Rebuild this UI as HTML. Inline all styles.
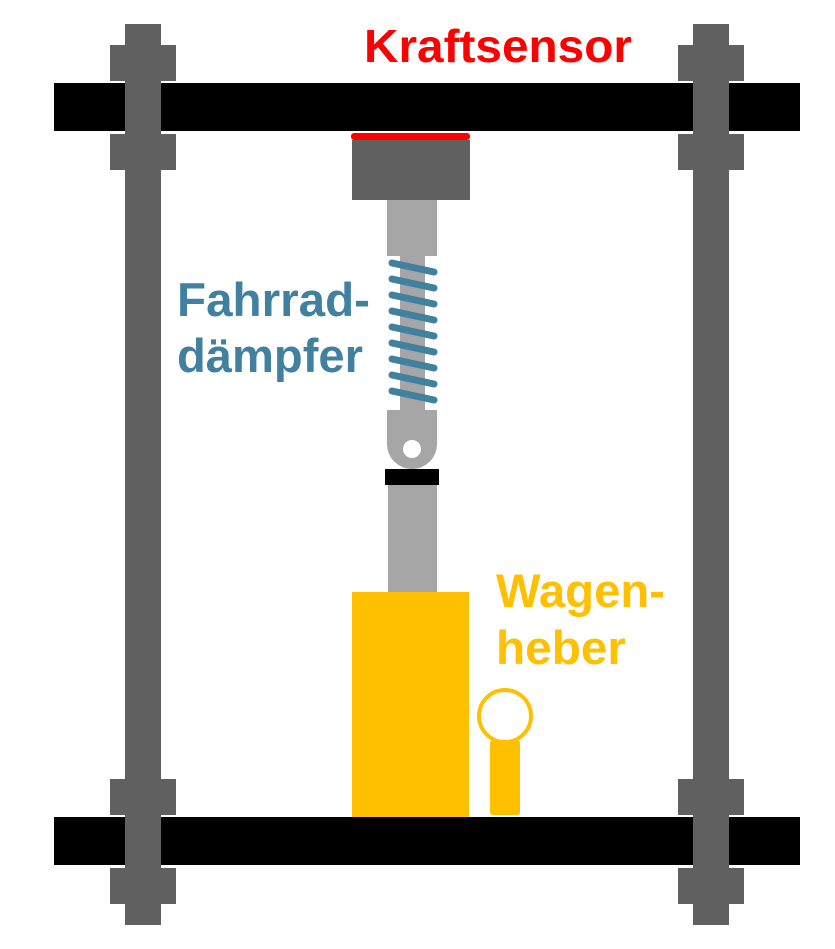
<!DOCTYPE html>
<html><head><style>
body{margin:0;width:835px;height:949px;background:#fff;overflow:hidden}
</style></head><body>
<svg width="835" height="949" viewBox="0 0 835 949" xmlns="http://www.w3.org/2000/svg" style="display:block">
<g fill="#606060">
<rect x="125" y="24" width="36" height="901"/>
<rect x="693" y="24" width="36" height="901"/>
<rect x="110" y="45" width="66" height="36"/>
<rect x="110" y="134" width="66" height="36"/>
<rect x="110" y="779" width="66" height="36"/>
<rect x="110" y="868" width="66" height="36"/>
<rect x="678" y="45" width="66" height="36"/>
<rect x="678" y="134" width="66" height="36"/>
<rect x="678" y="779" width="66" height="36"/>
<rect x="678" y="868" width="66" height="36"/>
</g>
<g fill="#000">
<rect x="54" y="83" width="71" height="48"/>
<rect x="161" y="83" width="532" height="48"/>
<rect x="729" y="83" width="71" height="48"/>
<rect x="54" y="817" width="71" height="48"/>
<rect x="161" y="817" width="532" height="48"/>
<rect x="729" y="817" width="71" height="48"/>
</g>
<rect x="352" y="140" width="118" height="60" fill="#606060"/>
<rect x="351" y="133" width="119" height="7" rx="3" fill="#ff0000"/>
<rect x="387" y="200" width="50" height="56" fill="#a6a6a6"/>
<rect x="400" y="255" width="25" height="160" fill="#a6a6a6"/>
<g stroke="#41809f" stroke-width="7" stroke-linecap="round">
<line x1="392" y1="263" x2="434" y2="272"/>
<line x1="392" y1="279" x2="434" y2="288"/>
<line x1="392" y1="295" x2="434" y2="304"/>
<line x1="392" y1="311" x2="434" y2="320"/>
<line x1="392" y1="327" x2="434" y2="336"/>
<line x1="392" y1="343" x2="434" y2="352"/>
<line x1="392" y1="359" x2="434" y2="368"/>
<line x1="392" y1="375" x2="434" y2="384"/>
<line x1="392" y1="391" x2="434" y2="400"/>
</g>
<path d="M387 410 H437 V444 A25 25 0 0 1 387 444 Z" fill="#a6a6a6"/>
<circle cx="412" cy="449" r="9" fill="#fff"/>
<rect x="385" y="469" width="54" height="16" fill="#000"/>
<rect x="388" y="485" width="49" height="108" fill="#a6a6a6"/>
<rect x="352" y="592" width="117" height="225" fill="#ffc000"/>
<rect x="490" y="740" width="30" height="75" rx="3" fill="#ffc000"/>
<circle cx="505" cy="716" r="26" fill="#fff" stroke="#ffc000" stroke-width="4"/>
<g font-family="Liberation Sans, sans-serif" font-weight="bold">
<text x="364" y="62" font-size="46" fill="#ff0000" textLength="268" lengthAdjust="spacingAndGlyphs">Kraftsensor</text>
<text x="177" y="316" font-size="47" fill="#41809f" textLength="193" lengthAdjust="spacingAndGlyphs">Fahrrad-</text>
<text x="177" y="372" font-size="47" fill="#41809f" textLength="186" lengthAdjust="spacingAndGlyphs">dämpfer</text>
<text x="496" y="607" font-size="47" fill="#ffc000" textLength="169" lengthAdjust="spacingAndGlyphs">Wagen-</text>
<text x="496" y="664" font-size="47" fill="#ffc000" textLength="130" lengthAdjust="spacingAndGlyphs">heber</text>
</g>
</svg>
</body></html>
